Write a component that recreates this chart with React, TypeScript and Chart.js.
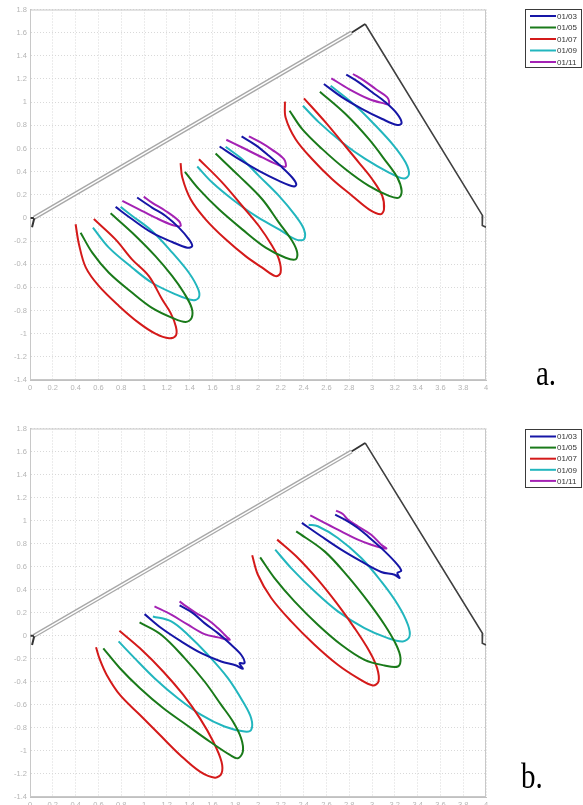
import React, { useEffect, useRef } from 'react';
import { Chart, registerables } from 'chart.js';

Chart.register(...registerables);

// ---------- axis / legend values ----------
const X_MIN = 0;
const X_MAX = 4;
const Y_MIN = -1.4;
const Y_MAX = 1.8;
const TICK_STEP = 0.2;
const seriesLabels = ['01/03', '01/05', '01/07', '01/09', '01/11'];
const seriesColors = ['#1616a6', '#1a7a1a', '#d41a1a', '#22b6be', '#a422b4'];
const panelLabels = ['a.', 'b.'];

// ---------- frame (structure outline) ----------
const FRAME_DOUBLE = [[0.035, 0.0], [2.82, 1.6]];
const FRAME_DARK_TOP = [[2.82, 1.6], [2.94, 1.675]];
const FRAME_DARK_RIGHT = [[2.94, 1.675], [3.97, 0.02], [3.965, -0.005], [3.97, -0.065], [4.0, -0.08]];
const FRAME_HOOK_LEFT = [[0.005, 0.0], [0.038, 0.0], [0.018, -0.08]];

// ---------- panel a ----------
const A_blue_1 = [[0.751, 0.095], [0.897, -0.012], [1.07, -0.128], [1.248, -0.208], [1.38, -0.257], [1.423, -0.243], [1.394, -0.185], [1.306, -0.084], [1.19, 0.017], [1.07, 0.089], [0.94, 0.176]];
const A_blue_2 = [[1.663, 0.617], [1.833, 0.507], [2.008, 0.406], [2.184, 0.32], [2.316, 0.271], [2.336, 0.291], [2.3, 0.349], [2.213, 0.435], [2.096, 0.536], [1.979, 0.629], [1.856, 0.704]];
const A_blue_3 = [[2.578, 1.157], [2.739, 1.041], [2.915, 0.94], [3.09, 0.854], [3.222, 0.802], [3.26, 0.819], [3.222, 0.897], [3.119, 0.998], [3.002, 1.085], [2.885, 1.171], [2.774, 1.238]];

const A_green_1 = [[0.444, -0.128], [0.546, -0.3], [0.692, -0.474], [0.897, -0.647], [1.07, -0.777], [1.248, -0.863], [1.365, -0.898], [1.418, -0.863], [1.418, -0.777], [1.35, -0.647], [1.248, -0.503], [1.1, -0.33], [0.897, -0.128], [0.707, 0.04]];
const A_green_2 = [[1.359, 0.398], [1.482, 0.248], [1.657, 0.074], [1.862, -0.099], [2.067, -0.257], [2.242, -0.344], [2.33, -0.358], [2.344, -0.3], [2.3, -0.2], [2.184, -0.041], [2.037, 0.161], [1.833, 0.363], [1.628, 0.556]];
const A_green_3 = [[2.277, 0.926], [2.388, 0.767], [2.564, 0.594], [2.768, 0.42], [2.973, 0.276], [3.149, 0.19], [3.236, 0.175], [3.26, 0.233], [3.222, 0.349], [3.119, 0.493], [2.973, 0.68], [2.768, 0.897], [2.543, 1.09]];

const A_red_1 = [[0.4, -0.055], [0.43, -0.23], [0.49, -0.43], [0.605, -0.59], [0.78, -0.76], [0.955, -0.907], [1.1, -1.0], [1.22, -1.04], [1.28, -1.016], [1.28, -0.94], [1.233, -0.82], [1.16, -0.705], [1.043, -0.503], [0.897, -0.36], [0.75, -0.185], [0.56, -0.01]];
const A_red_2 = [[1.321, 0.473], [1.336, 0.349], [1.409, 0.161], [1.54, -0.012], [1.716, -0.185], [1.891, -0.33], [2.037, -0.43], [2.154, -0.503], [2.198, -0.474], [2.184, -0.358], [2.125, -0.243], [2.008, -0.07], [1.862, 0.103], [1.687, 0.305], [1.482, 0.507]];
const A_red_3 = [[2.236, 1.004], [2.242, 0.868], [2.33, 0.68], [2.476, 0.507], [2.651, 0.334], [2.827, 0.19], [2.973, 0.074], [3.075, 0.031], [3.105, 0.074], [3.09, 0.19], [3.002, 0.334], [2.885, 0.478], [2.739, 0.652], [2.593, 0.825], [2.403, 1.033]];

const A_cyan_1 = [[0.552, -0.084], [0.692, -0.257], [0.897, -0.43], [1.07, -0.56], [1.277, -0.66], [1.423, -0.71], [1.48, -0.69], [1.476, -0.618], [1.394, -0.474], [1.248, -0.3], [1.07, -0.113], [0.897, 0.017], [0.795, 0.095]];
const A_cyan_2 = [[1.467, 0.444], [1.599, 0.305], [1.774, 0.161], [1.979, 0.017], [2.184, -0.099], [2.33, -0.185], [2.403, -0.185], [2.403, -0.099], [2.33, 0.017], [2.184, 0.19], [2.008, 0.363], [1.862, 0.507], [1.716, 0.614]];
const A_cyan_3 = [[2.394, 0.969], [2.535, 0.825], [2.739, 0.652], [2.944, 0.507], [3.149, 0.392], [3.28, 0.34], [3.324, 0.377], [3.295, 0.478], [3.192, 0.623], [3.032, 0.796], [2.856, 0.969], [2.637, 1.142]];

const A_magenta_1 = [[0.81, 0.147], [0.956, 0.074], [1.1, 0.002], [1.248, -0.061], [1.32, -0.07], [1.306, -0.027], [1.19, 0.06], [1.07, 0.132], [0.998, 0.184]];
const A_magenta_2 = [[1.722, 0.675], [1.862, 0.608], [2.037, 0.522], [2.184, 0.455], [2.242, 0.444], [2.228, 0.507], [2.125, 0.588], [2.023, 0.652], [1.92, 0.704]];
const A_magenta_3 = [[2.643, 1.206], [2.798, 1.113], [2.973, 1.027], [3.105, 0.989], [3.149, 0.984], [3.134, 1.041], [3.032, 1.113], [2.93, 1.186], [2.833, 1.243]];

// ---------- panel b ----------
const B_blue_1 = [[1.005, 0.188], [1.151, 0.067], [1.326, -0.049], [1.502, -0.151], [1.677, -0.223], [1.809, -0.258], [1.867, -0.287], [1.838, -0.238], [1.882, -0.238], [1.852, -0.165], [1.765, -0.078], [1.648, 0.023], [1.531, 0.11], [1.429, 0.197], [1.312, 0.264]];
const B_blue_2 = [[2.385, 0.98], [2.554, 0.864], [2.73, 0.748], [2.906, 0.646], [3.081, 0.554], [3.198, 0.53], [3.242, 0.501], [3.222, 0.545], [3.257, 0.565], [3.198, 0.646], [3.081, 0.762], [2.964, 0.864], [2.876, 0.936], [2.788, 0.994], [2.677, 1.052]];

const B_green_1 = [[0.643, -0.109], [0.789, -0.282], [0.965, -0.456], [1.17, -0.63], [1.374, -0.775], [1.579, -0.92], [1.754, -1.035], [1.823, -1.064], [1.867, -1.006], [1.852, -0.89], [1.78, -0.745], [1.677, -0.6], [1.531, -0.397], [1.356, -0.194], [1.151, 0.009], [0.961, 0.116]];
const B_green_2 = [[2.019, 0.681], [2.145, 0.501], [2.32, 0.299], [2.525, 0.096], [2.73, -0.078], [2.934, -0.209], [3.11, -0.258], [3.227, -0.267], [3.25, -0.194], [3.212, -0.078], [3.11, 0.096], [2.964, 0.299], [2.788, 0.516], [2.584, 0.733], [2.335, 0.907]];

const B_red_1 = [[0.579, -0.1], [0.614, -0.21], [0.673, -0.34], [0.789, -0.514], [0.965, -0.688], [1.14, -0.862], [1.316, -1.035], [1.491, -1.18], [1.623, -1.232], [1.68, -1.194], [1.68, -1.093], [1.608, -0.92], [1.491, -0.717], [1.345, -0.514], [1.17, -0.312], [0.965, -0.109], [0.784, 0.044]];
const B_red_2 = [[1.949, 0.699], [1.999, 0.53], [2.116, 0.328], [2.291, 0.125], [2.496, -0.078], [2.7, -0.252], [2.876, -0.368], [3.007, -0.432], [3.057, -0.397], [3.045, -0.281], [2.978, -0.136], [2.847, 0.067], [2.7, 0.27], [2.525, 0.487], [2.335, 0.69], [2.168, 0.835]];

const B_cyan_1 = [[0.777, -0.049], [0.917, -0.194], [1.092, -0.368], [1.297, -0.542], [1.502, -0.687], [1.706, -0.788], [1.882, -0.832], [1.94, -0.817], [1.94, -0.716], [1.867, -0.571], [1.736, -0.368], [1.56, -0.165], [1.385, 0.009], [1.239, 0.125], [1.078, 0.168]];
const B_cyan_2 = [[2.151, 0.748], [2.291, 0.588], [2.496, 0.386], [2.7, 0.212], [2.934, 0.067], [3.139, -0.02], [3.271, -0.049], [3.329, -0.006], [3.315, 0.096], [3.227, 0.27], [3.081, 0.472], [2.906, 0.675], [2.7, 0.849], [2.525, 0.951], [2.444, 0.965]];

const B_magenta_1 = [[1.092, 0.255], [1.239, 0.183], [1.385, 0.096], [1.531, 0.014], [1.648, -0.014], [1.751, -0.035], [1.722, -0.006], [1.648, 0.067], [1.56, 0.139], [1.458, 0.197], [1.371, 0.255], [1.312, 0.299]];
const B_magenta_2 = [[2.458, 1.046], [2.584, 0.98], [2.73, 0.907], [2.876, 0.835], [2.993, 0.791], [3.125, 0.757], [3.081, 0.791], [2.993, 0.878], [2.876, 0.951], [2.788, 1.009], [2.744, 1.058], [2.685, 1.087]];

const PANEL_A = [
  [A_blue_1, A_blue_2, A_blue_3],
  [A_green_1, A_green_2, A_green_3],
  [A_red_1, A_red_2, A_red_3],
  [A_cyan_1, A_cyan_2, A_cyan_3],
  [A_magenta_1, A_magenta_2, A_magenta_3],
];
const PANEL_B = [
  [B_blue_1, B_blue_2],
  [B_green_1, B_green_2],
  [B_red_1, B_red_2],
  [B_cyan_1, B_cyan_2],
  [B_magenta_1, B_magenta_2],
];

const toPts = (arr: number[][]) => arr.map(([x, y]) => ({ x, y }));

function buildDatasets(panel: number[][][][]) {
  const ds: any[] = [];
  panel.forEach((groups, si) => {
    groups.forEach((g) => {
      ds.push({
        data: toPts(g),
        borderColor: seriesColors[si],
        borderWidth: 2,
        pointRadius: 0,
        tension: 0.35,
        fill: false,
        order: 0,
      });
    });
  });
  const frameCommon = { pointRadius: 0, tension: 0, fill: false };
  ds.push({ ...frameCommon, data: toPts(FRAME_DOUBLE), borderColor: '#ffffff', borderWidth: 1.4, order: 1 });
  ds.push({ ...frameCommon, data: toPts(FRAME_DOUBLE), borderColor: '#a8a8a8', borderWidth: 4.2, order: 2 });
  ds.push({ ...frameCommon, data: toPts(FRAME_DARK_TOP), borderColor: '#333333', borderWidth: 1.8, order: 1 });
  ds.push({ ...frameCommon, data: toPts(FRAME_DARK_RIGHT), borderColor: '#404040', borderWidth: 1.6, order: 1 });
  ds.push({ ...frameCommon, data: toPts(FRAME_HOOK_LEFT), borderColor: '#333333', borderWidth: 2, order: 1 });
  return ds;
}

const framePlugin = {
  id: 'plotFrame',
  beforeDatasetsDraw(chart: any) {
    const { ctx, chartArea } = chart;
    ctx.save();
    ctx.strokeStyle = '#c8c8c8';
    ctx.lineWidth = 1;
    ctx.strokeRect(chartArea.left + 0.5, chartArea.top + 0.5, chartArea.right - chartArea.left - 1, chartArea.bottom - chartArea.top - 1);
    ctx.restore();
  },
};

const boxLegendPlugin = {
  id: 'boxLegend',
  afterDraw(chart: any, _args: any, opts: any) {
    const { ctx } = chart;
    const { x, y, w, h, rowStart, rowStep } = opts;
    ctx.save();
    ctx.fillStyle = '#ffffff';
    ctx.fillRect(x, y, w, h);
    ctx.strokeStyle = '#3a3a3a';
    ctx.lineWidth = 1;
    ctx.strokeRect(x + 0.5, y + 0.5, w, h);
    ctx.font = '8px "Liberation Sans", Arial, sans-serif';
    ctx.textBaseline = 'middle';
    ctx.textAlign = 'left';
    seriesLabels.forEach((lab, i) => {
      const yy = y + rowStart + i * rowStep;
      ctx.strokeStyle = seriesColors[i];
      ctx.lineWidth = 2;
      ctx.beginPath();
      ctx.moveTo(x + 5, yy);
      ctx.lineTo(x + 31, yy);
      ctx.stroke();
      ctx.fillStyle = '#333333';
      ctx.fillText(lab, x + 32, yy + 0.5);
    });
    ctx.restore();
  },
};

const fmt = (v: any) => {
  const r = Math.round(Number(v) * 10) / 10;
  return String(r === 0 ? 0 : r);
};

function makeConfig(panel: number[][][][], padTop: number, xAxisH: number, legend: any) {
  const tickFont = { family: '"Liberation Sans", Arial, sans-serif', size: 7.5 };
  return {
    type: 'line',
    data: { datasets: buildDatasets(panel) },
    options: {
      animation: false,
      responsive: false,
      maintainAspectRatio: false,
      layout: { padding: { left: 0, right: 97, top: padTop, bottom: 0 } },
      plugins: {
        legend: { display: false },
        tooltip: { enabled: false },
        boxLegend: legend,
      },
      scales: {
        x: {
          type: 'linear',
          min: X_MIN,
          max: X_MAX,
          afterFit: (s: any) => { s.height = xAxisH; },
          ticks: { stepSize: TICK_STEP, autoSkip: false, maxRotation: 0, color: '#b4b4b4', font: tickFont, padding: 3, callback: fmt },
          grid: { color: '#d9d9d9', lineWidth: 1, drawTicks: false },
          border: { display: true, color: '#c0c0c0', width: 1, dash: [1, 2] },
        },
        y: {
          type: 'linear',
          min: Y_MIN,
          max: Y_MAX,
          afterFit: (s: any) => { s.width = 30; },
          ticks: { stepSize: TICK_STEP, autoSkip: false, color: '#b4b4b4', font: tickFont, padding: 3, callback: fmt },
          grid: { color: '#d9d9d9', lineWidth: 1, drawTicks: false },
          border: { display: true, color: '#c0c0c0', width: 1, dash: [1, 2] },
        },
      },
    },
    plugins: [framePlugin, boxLegendPlugin],
  };
}

export default function App() {
  const refA = useRef<HTMLCanvasElement | null>(null);
  const refB = useRef<HTMLCanvasElement | null>(null);

  useEffect(() => {
    const charts: Chart[] = [];
    if (refA.current) {
      charts.push(new Chart(refA.current, makeConfig(PANEL_A, 9.5, 20, { x: 525, y: 9, w: 56, h: 58, rowStart: 7, rowStep: 11.5 }) as any));
    }
    if (refB.current) {
      charts.push(new Chart(refB.current, makeConfig(PANEL_B, 28.5, 8, { x: 525, y: 29, w: 56, h: 58, rowStart: 7.5, rowStep: 11.1 }) as any));
    }
    return () => charts.forEach((c) => c.destroy());
  }, []);

  const labelStyle: React.CSSProperties = {
    position: 'absolute',
    fontFamily: '"Liberation Serif", "Times New Roman", serif',
    fontSize: 29,
    lineHeight: '29px',
    color: '#000',
    transform: 'scaleY(1.2)',
    transformOrigin: '0 24px',
    whiteSpace: 'nowrap',
  };

  return (
    <div style={{ position: 'absolute', left: 0, top: 0, width: 583, height: 805, background: '#fff', overflow: 'hidden' }}>
      <canvas ref={refA} width={583} height={400} style={{ position: 'absolute', left: 0, top: 0, width: 583, height: 400 }} />
      <canvas ref={refB} width={583} height={405} style={{ position: 'absolute', left: 0, top: 400, width: 583, height: 405 }} />
      <div style={{ ...labelStyle, left: 536, top: 385 - 24 }}>{panelLabels[0]}</div>
      <div style={{ ...labelStyle, left: 521, top: 788 - 24 }}>{panelLabels[1]}</div>
    </div>
  );
}
